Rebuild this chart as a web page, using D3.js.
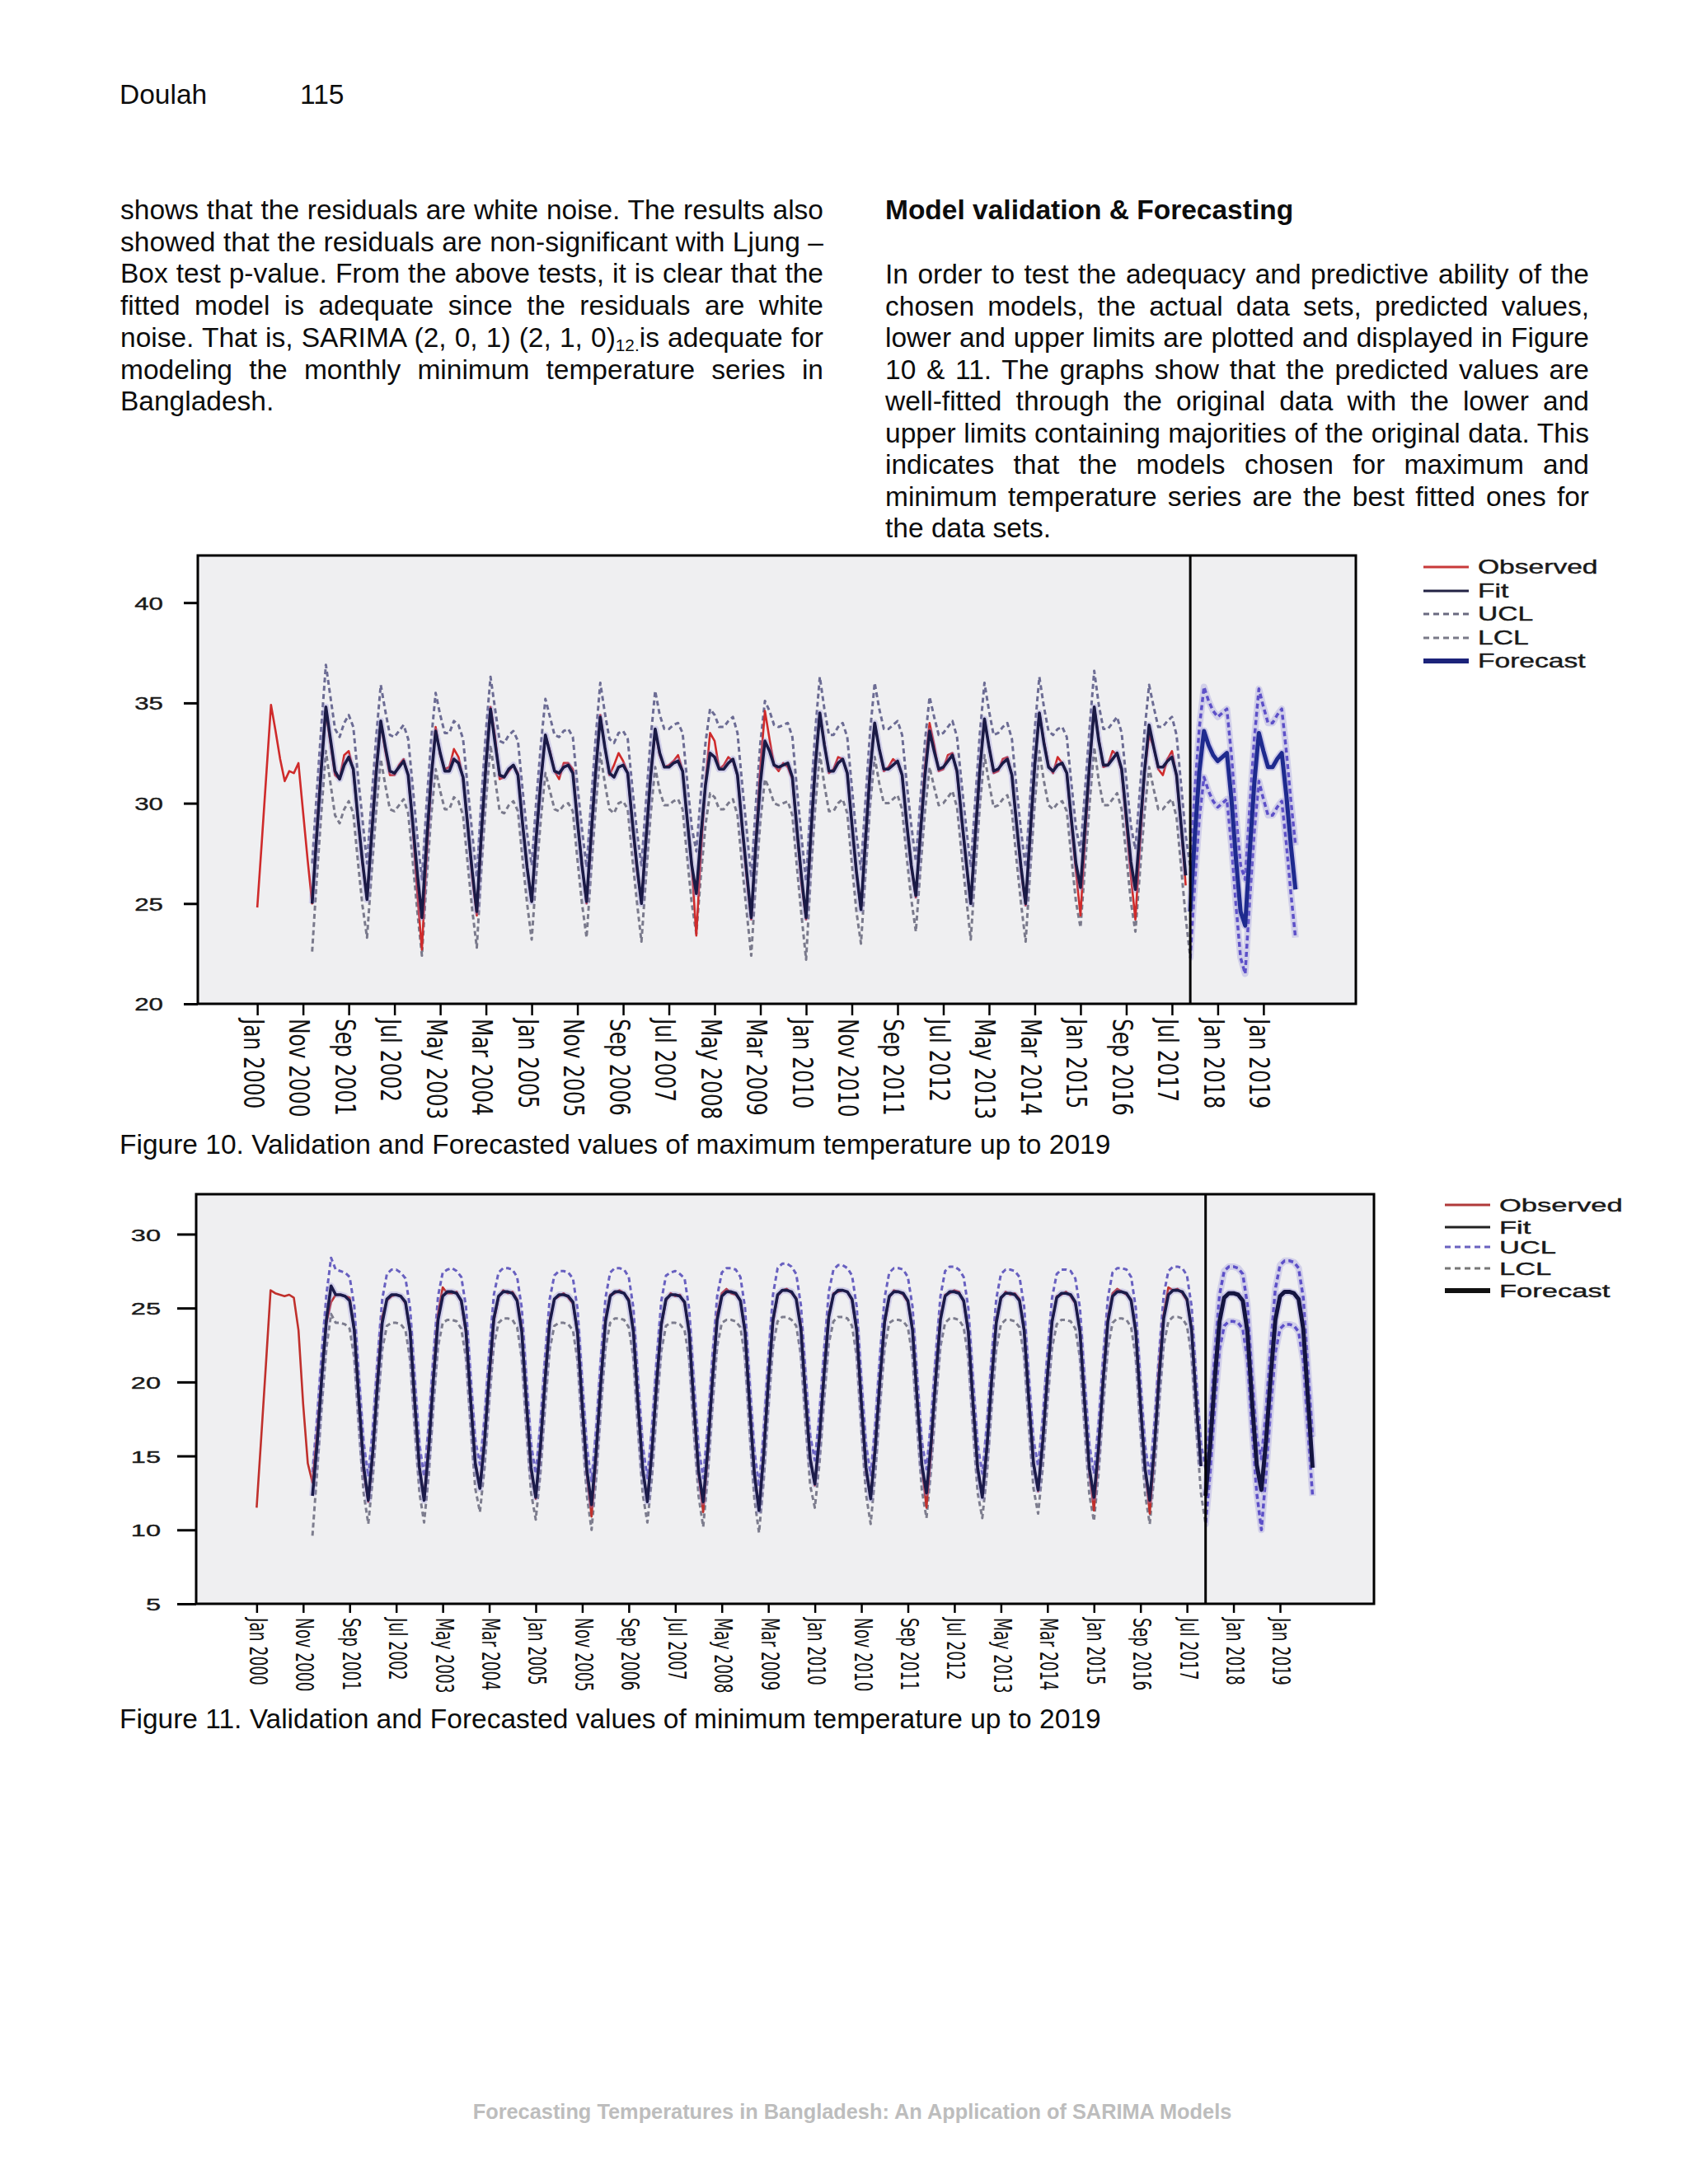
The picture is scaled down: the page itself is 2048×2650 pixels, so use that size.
<!DOCTYPE html>
<html><head><meta charset="utf-8">
<script src="https://cdn.jsdelivr.net/npm/d3@7/dist/d3.min.js"></script>
<style>html,body{margin:0;padding:0;background:#fff;} svg{display:block;}</style>
</head><body>
<svg id="page" width="2048" height="2650"></svg>
<script>
// ================= DATA =================
// x positions are month indices counted from Jan 2000
const tickLabels = ["Jan 2000","Nov 2000","Sep 2001","Jul 2002","May 2003","Mar 2004","Jan 2005","Nov 2005","Sep 2006","Jul 2007","May 2008","Mar 2009","Jan 2010","Nov 2010","Sep 2011","Jul 2012","May 2013","Mar 2014","Jan 2015","Sep 2016","Jul 2017","Jan 2018","Jan 2019"];
const tickMonths = [0,10,20,30,40,50,60,70,80,90,100,110,120,130,140,150,160,170,180,190,200,210,220];
const legendNames = ["Observed","Fit","UCL","LCL","Forecast"];
const fitStart = 12;        // Jan 2001
const forecastStart = 204;  // Jan 2017
const xDomain = [-13, 240.2];

// ---- Figure 10: maximum temperature ----
const maxObserved = [
24.8,28.1,31.5,34.9,33.6,32.2,31.1,31.6,31.5,32.0,29.6,27.2,
25.0,28.6,31.9,34.6,33.0,31.4,31.2,32.4,32.6,31.6,29.2,27.0,
25.2,28.5,31.7,34.0,32.6,31.4,31.4,31.9,32.2,31.4,28.8,25.5,
22.7,27.3,31.0,33.8,32.4,31.7,31.8,32.7,32.3,31.2,29.0,26.3,
24.4,28.4,31.9,34.8,33.3,31.2,31.3,31.6,31.9,31.5,29.0,26.8,
25.1,28.3,31.1,33.4,32.6,31.6,31.2,32.0,32.0,31.7,29.2,26.9,
25.0,28.3,31.6,34.4,32.8,31.4,31.9,32.5,32.1,31.5,29.0,26.7,
25.1,28.2,31.3,33.6,32.4,31.8,31.9,32.1,32.4,31.6,29.2,26.9,
23.4,27.6,31.0,33.5,33.1,31.7,31.9,32.3,32.1,31.4,28.8,26.3,
24.2,28.0,31.8,34.6,33.2,31.9,31.6,32.0,31.8,31.2,28.6,26.0,
24.2,28.2,31.9,34.5,33.0,31.5,31.7,32.3,32.2,31.5,29.0,26.5,
24.7,28.3,31.7,34.0,32.7,31.6,31.8,32.2,32.0,31.4,29.0,26.8,
25.3,28.6,31.8,34.0,32.9,31.6,31.7,32.4,32.5,31.5,29.2,27.0,
25.0,28.5,31.8,34.2,32.8,31.5,31.6,32.2,32.3,31.4,29.0,26.6,
24.9,28.4,31.9,34.5,33.1,31.9,31.5,32.3,32.0,31.5,29.0,26.6,
24.4,28.3,31.9,34.8,33.2,31.8,31.9,32.6,32.4,31.6,29.0,26.4,
24.2,28.0,31.5,33.4,32.8,31.7,31.4,32.2,32.6,31.3,28.8,25.9];
const maxFit = [
25.0,28.4,31.7,34.8,33.2,31.6,31.2,31.9,32.3,31.7,29.3,27.1,
25.2,28.4,31.5,34.1,32.8,31.6,31.5,31.8,32.1,31.4,29.0,26.5,
24.3,28.0,31.2,33.6,32.5,31.6,31.6,32.2,32.0,31.3,28.9,26.6,
24.6,28.5,31.9,34.7,33.0,31.4,31.3,31.7,31.9,31.4,29.0,26.8,
25.1,28.3,31.1,33.4,32.5,31.6,31.5,31.8,31.9,31.5,29.1,26.9,
25.1,28.4,31.6,34.3,32.8,31.5,31.3,31.8,31.9,31.5,29.1,26.9,
25.0,28.2,31.3,33.7,32.5,31.8,31.8,32.0,32.1,31.6,29.2,26.9,
25.5,28.4,30.9,32.5,32.3,31.7,31.7,32.0,32.2,31.4,28.9,26.6,
24.3,27.9,31.0,33.1,32.6,31.9,31.8,31.9,32.0,31.3,28.7,26.3,
24.3,28.3,31.8,34.5,32.9,31.6,31.6,32.0,32.2,31.5,29.0,26.6,
24.7,28.2,31.6,34.0,32.7,31.7,31.7,31.9,32.1,31.4,29.0,26.9,
25.4,28.5,31.4,33.6,32.6,31.7,31.8,32.1,32.4,31.6,29.3,27.1,
25.0,28.4,31.7,34.2,32.8,31.6,31.7,32.0,32.2,31.4,29.0,26.8,
25.0,28.5,31.9,34.5,33.0,31.8,31.6,31.9,32.0,31.5,29.2,27.0,
25.8,28.9,32.0,34.8,33.1,31.9,31.9,32.2,32.5,31.7,29.4,27.1,
25.7,28.7,31.6,33.9,32.8,31.8,31.8,32.1,32.3,31.4,28.9,26.4];
const maxUCL = [
27.0,30.5,33.8,36.9,35.3,33.7,33.3,34.0,34.4,33.8,31.4,29.2,
27.0,30.2,33.3,35.9,34.6,33.4,33.3,33.6,33.9,33.2,30.8,28.3,
26.2,29.9,33.1,35.5,34.4,33.5,33.5,34.1,33.9,33.2,30.8,28.5,
26.3,30.2,33.6,36.3,34.7,33.1,33.0,33.4,33.6,33.1,30.7,28.5,
26.9,30.1,32.9,35.2,34.3,33.4,33.3,33.6,33.7,33.3,30.9,28.7,
26.8,30.1,33.3,36.0,34.5,33.2,33.0,33.5,33.6,33.2,30.8,28.6,
26.9,30.1,33.2,35.6,34.4,33.7,33.7,33.9,34.0,33.5,31.1,28.8,
27.6,30.5,33.0,34.7,34.4,33.8,33.8,34.1,34.3,33.5,31.0,28.7,
26.3,29.9,33.0,35.1,34.6,33.9,33.8,33.9,34.0,33.3,30.7,28.3,
26.1,30.1,33.6,36.3,34.7,33.4,33.4,33.8,34.0,33.3,30.8,28.4,
26.7,30.2,33.6,36.0,34.7,33.7,33.7,33.9,34.1,33.4,31.0,28.9,
27.1,30.2,33.1,35.3,34.3,33.4,33.5,33.8,34.1,33.3,31.0,28.8,
26.8,30.2,33.5,36.0,34.6,33.4,33.5,33.8,34.0,33.2,30.8,28.6,
26.8,30.3,33.7,36.3,34.8,33.6,33.4,33.7,33.8,33.3,31.0,28.8,
27.6,30.7,33.8,36.6,34.9,33.7,33.7,34.0,34.3,33.5,31.2,28.9,
27.7,30.7,33.6,35.9,34.8,33.8,33.8,34.1,34.3,33.4,30.9,28.4,
26.8,30.6,33.8,35.8,35.1,34.6,34.3,34.5,34.7,32.4,29.4,26.9,
26.2,29.8,33.2,35.7,34.8,34.0,34.0,34.4,34.7,32.6,30.1,27.9];
const maxLCL = [
22.6,26.2,29.5,32.6,31.0,29.4,29.0,29.7,30.1,29.5,27.1,24.9,
23.3,26.5,29.6,32.2,30.9,29.7,29.6,29.9,30.2,29.5,27.1,24.6,
22.4,26.1,29.3,31.7,30.6,29.7,29.7,30.3,30.1,29.4,27.0,24.7,
22.8,26.7,30.1,32.9,31.2,29.6,29.5,29.9,30.1,29.6,27.2,25.0,
23.2,26.4,29.2,31.5,30.6,29.7,29.6,29.9,30.0,29.6,27.2,25.0,
23.3,26.6,29.8,32.5,31.0,29.7,29.5,30.0,30.1,29.7,27.3,25.1,
23.1,26.3,29.4,31.8,30.6,29.9,29.9,30.1,30.2,29.7,27.3,25.0,
23.5,26.4,28.9,30.5,30.3,29.7,29.7,30.0,30.2,29.4,26.9,24.6,
22.4,26.0,29.1,31.2,30.7,30.0,29.9,30.0,30.1,29.4,26.8,24.4,
22.2,26.3,29.8,32.5,30.9,29.6,29.6,30.0,30.2,29.5,27.0,24.6,
23.0,26.5,29.9,32.3,31.0,30.0,30.0,30.2,30.4,29.7,27.3,25.2,
23.6,26.7,29.6,31.8,30.8,29.9,30.0,30.3,30.6,29.8,27.5,25.3,
23.2,26.6,29.9,32.4,31.0,29.8,29.9,30.2,30.4,29.6,27.2,25.0,
23.1,26.6,30.0,32.6,31.1,29.9,29.7,30.0,30.1,29.6,27.3,25.1,
23.8,26.9,30.0,32.8,31.1,29.9,29.9,30.2,30.5,29.7,27.4,25.1,
23.6,26.6,29.5,31.8,30.7,29.7,29.7,30.0,30.2,29.3,26.8,24.3,
22.3,26.1,29.3,31.3,30.6,30.1,29.8,30.0,30.2,27.9,24.9,22.3,
21.5,25.2,28.6,31.1,30.2,29.4,29.4,29.8,30.1,28.0,25.5,23.3];
const maxForecast = [
24.6,28.4,31.6,33.6,32.9,32.4,32.1,32.3,32.5,30.2,27.2,24.6,
23.9,27.6,31.0,33.5,32.6,31.8,31.8,32.2,32.5,30.4,27.9,25.7];

// ---- Figure 11: minimum temperature ----
const minObserved = [
11.5,16.3,21.2,26.2,26.0,25.9,25.8,25.9,25.7,23.5,18.5,14.5,
13.2,16.5,20.5,24.0,25.4,25.9,25.9,25.8,25.7,23.4,18.6,14.0,
11.9,15.2,20.3,24.4,25.5,25.8,25.9,25.8,25.3,23.4,18.4,14.2,
12.1,15.8,20.4,24.6,26.4,26.0,26.0,26.1,25.4,23.3,18.9,14.6,
12.9,16.2,20.2,24.1,25.7,26.2,26.0,26.1,25.6,23.6,18.5,14.0,
12.1,15.4,20.3,24.2,25.6,25.8,26.0,25.7,25.3,23.2,18.2,13.8,
10.9,15.0,20.2,24.3,25.9,26.0,26.2,26.0,25.6,23.5,18.6,14.0,
12.0,15.6,19.8,23.8,25.5,26.0,25.8,25.9,25.3,23.4,18.2,13.8,
11.2,15.2,20.4,24.5,26.0,26.3,26.0,25.9,25.5,23.3,18.4,13.9,
11.4,15.3,20.1,24.0,25.8,26.2,26.3,26.0,25.7,23.8,19.1,14.9,
13.0,16.1,20.8,24.5,26.0,26.1,26.2,26.1,25.5,23.4,18.4,14.0,
12.2,15.8,20.0,23.9,25.7,26.2,26.1,25.9,25.4,23.6,18.9,14.3,
11.5,15.4,20.5,24.4,25.9,26.0,26.2,26.1,25.4,23.3,18.5,14.1,
12.3,15.5,20.2,24.2,25.6,26.1,25.9,26.0,25.6,23.4,18.9,14.6,
12.6,16.1,20.3,24.0,25.8,25.9,26.1,25.8,25.3,23.5,18.5,14.0,
11.3,15.2,20.4,24.3,26.0,26.3,26.1,25.9,25.6,23.3,18.4,14.2,
11.1,15.3,21.0,24.6,26.4,26.2,26.3,26.0,25.5,23.6,18.7,14.4];
const minFit = [
12.3,15.8,20.3,24.2,26.5,25.9,25.9,25.8,25.5,23.5,18.7,14.3,
12.0,15.4,20.0,24.0,25.6,25.9,25.9,25.8,25.4,23.4,18.6,14.2,
12.0,15.5,20.2,24.2,25.8,26.1,26.1,26.0,25.5,23.5,18.8,14.5,
12.8,16.0,20.5,24.3,25.8,26.1,26.1,26.0,25.5,23.4,18.6,14.2,
12.2,15.6,20.1,24.0,25.6,25.9,25.9,25.8,25.4,23.3,18.4,14.0,
11.7,15.3,20.0,24.1,25.8,26.1,26.1,26.0,25.5,23.4,18.5,14.1,
11.9,15.4,20.0,23.9,25.6,25.9,25.9,25.8,25.4,23.3,18.4,14.0,
11.9,15.5,20.2,24.2,25.8,26.1,26.1,26.0,25.5,23.4,18.3,13.8,
11.3,15.1,20.0,24.2,25.9,26.2,26.2,26.1,25.6,23.6,19.0,14.8,
13.1,16.3,20.6,24.4,25.9,26.2,26.2,26.1,25.6,23.5,18.6,14.2,
12.1,15.6,20.2,24.1,25.8,26.1,26.1,26.0,25.5,23.5,18.8,14.4,
12.5,15.9,20.3,24.2,25.8,26.1,26.1,26.0,25.5,23.4,18.6,14.2,
12.2,15.6,20.1,24.0,25.7,26.0,26.0,25.9,25.5,23.5,18.8,14.5,
12.7,16.0,20.4,24.1,25.7,26.0,26.0,25.9,25.4,23.4,18.6,14.2,
12.2,15.6,20.2,24.1,25.8,26.1,26.1,26.0,25.5,23.4,18.5,14.1,
12.0,15.6,20.3,24.3,25.9,26.2,26.2,26.1,25.6,23.5,18.6,14.3];
const minUCL = [
13.9,17.6,22.0,25.9,28.4,27.6,27.5,27.4,27.1,25.1,20.3,15.9,
13.6,17.0,21.6,25.6,27.3,27.6,27.6,27.4,27.0,25.0,20.2,15.8,
13.6,17.1,21.8,25.8,27.4,27.6,27.7,27.5,27.1,25.1,20.4,16.1,
14.4,17.6,22.1,25.9,27.4,27.7,27.7,27.6,27.1,25.0,20.2,15.8,
13.8,17.2,21.7,25.6,27.2,27.5,27.5,27.4,27.0,24.9,20.0,15.6,
13.3,16.9,21.6,25.7,27.4,27.7,27.7,27.6,27.1,25.0,20.1,15.7,
13.5,17.0,21.6,25.5,27.2,27.4,27.5,27.3,27.0,24.9,20.0,15.6,
13.5,17.1,21.8,25.8,27.4,27.7,27.7,27.6,27.1,25.0,19.9,15.4,
12.9,16.7,21.7,25.9,27.7,28.0,28.0,27.8,27.3,25.2,20.6,16.4,
14.7,17.9,22.2,26.1,27.6,27.9,27.9,27.7,27.2,25.1,20.2,15.8,
13.7,17.2,21.8,25.7,27.4,27.7,27.7,27.6,27.1,25.1,20.4,16.0,
14.1,17.5,21.9,25.8,27.5,27.8,27.8,27.6,27.1,25.0,20.2,15.8,
13.8,17.2,21.7,25.6,27.3,27.6,27.6,27.5,27.1,25.1,20.4,16.1,
14.3,17.6,22.0,25.7,27.3,27.6,27.6,27.5,27.0,25.0,20.2,15.8,
13.8,17.2,21.8,25.7,27.4,27.7,27.7,27.6,27.1,25.0,20.1,15.7,
13.6,17.2,21.9,25.9,27.5,27.8,27.8,27.7,27.2,25.1,20.2,15.9,
14.1,17.6,22.1,25.9,27.5,27.8,27.8,27.7,27.3,25.2,20.4,16.2,
14.8,18.1,22.5,26.3,27.9,28.2,28.2,28.1,27.7,25.7,21.0,16.3];
const minLCL = [
9.6,13.9,18.4,22.3,24.6,24.0,24.0,23.9,23.6,21.6,16.8,12.5,
10.4,13.6,18.2,22.2,23.8,24.0,24.0,23.9,23.5,21.5,16.8,12.5,
10.5,13.7,18.4,22.4,24.0,24.2,24.2,24.1,23.6,21.6,17.0,12.8,
11.2,14.2,18.7,22.5,24.0,24.3,24.3,24.2,23.7,21.6,16.8,12.5,
10.7,13.8,18.3,22.2,23.8,24.0,24.0,23.9,23.5,21.4,16.6,12.3,
10.0,13.5,18.2,22.3,24.0,24.3,24.3,24.2,23.7,21.6,16.7,12.4,
10.5,13.6,18.2,22.1,23.8,24.0,24.0,23.9,23.5,21.5,16.6,12.3,
10.2,13.7,18.4,22.4,24.0,24.2,24.2,24.1,23.7,21.6,16.5,12.1,
9.8,13.3,18.2,22.4,24.1,24.4,24.4,24.2,23.8,21.8,17.2,13.0,
11.5,14.5,18.8,22.6,24.1,24.4,24.4,24.3,23.8,21.7,16.8,12.4,
10.4,13.8,18.4,22.3,24.0,24.2,24.2,24.1,23.7,21.7,17.0,12.7,
10.8,14.1,18.5,22.4,24.0,24.3,24.3,24.2,23.7,21.6,16.8,12.5,
10.8,13.8,18.3,22.2,23.9,24.2,24.2,24.1,23.7,21.7,17.0,12.8,
11.1,14.2,18.6,22.3,23.9,24.2,24.2,24.1,23.6,21.6,16.8,12.4,
10.6,13.8,18.4,22.3,24.0,24.3,24.3,24.2,23.7,21.6,16.7,12.4,
10.4,13.8,18.5,22.5,24.1,24.4,24.4,24.3,23.8,21.7,16.8,12.5,
10.4,13.9,18.4,22.2,23.8,24.1,24.1,24.0,23.6,21.5,16.7,12.5,
10.0,13.8,18.2,22.0,23.6,23.9,23.9,23.8,23.4,21.4,16.7,12.3];
const minForecast = [
12.3,15.8,20.3,24.1,25.7,26.0,26.0,25.9,25.5,23.4,18.6,14.4,
12.7,16.0,20.4,24.2,25.8,26.1,26.1,26.0,25.6,23.6,18.9,14.2];

// ---- page text ----
const headerAuthor = "Doulah", headerPage = "115";
const leftColumn = [
  [{t:"shows that the residuals are white noise. The results also"}],
  [{t:"showed that the residuals are non-significant with Ljung \u2013"}],
  [{t:"Box test p-value. From the above tests, it is clear that the"}],
  [{t:"fitted model is adequate since the residuals are white"}],
  [{t:"noise. That is, SARIMA (2, 0, 1) (2, 1, 0)"},{t:"12.",sub:true},{t:"is adequate for"}],
  [{t:"modeling the monthly minimum temperature series in"}],
  [{t:"Bangladesh."}]
];
const rightHeading = "Model validation & Forecasting";
const rightColumn = [
  "In order to test the adequacy and predictive ability of the",
  "chosen models, the actual data sets, predicted values,",
  "lower and upper limits are plotted and displayed in Figure",
  "10 & 11. The graphs show that the predicted values are",
  "well-fitted through the original data with the lower and",
  "upper limits containing majorities of the original data. This",
  "indicates that the models chosen for maximum and",
  "minimum temperature series are the best fitted ones for",
  "the data sets."
];
const caption10 = "Figure 10. Validation and Forecasted values of maximum temperature up to 2019";
const caption11 = "Figure 11. Validation and Forecasted values of minimum temperature up to 2019";
const footer = "Forecasting Temperatures in Bangladesh: An Application of SARIMA Models";

// ================= DRAWING =================
const svg = d3.select("#page");
const defs = svg.append("defs");
const FONT = "'Liberation Sans', Arial, Helvetica, sans-serif";

function addText(x, y, parts, o = {}) {
  const size = o.size || 33.5, sx = o.sx || 1;
  const t = svg.append("text")
    .attr("transform", `translate(${x},${y}) scale(${sx},1)`)
    .attr("font-family", FONT).attr("font-size", size)
    .attr("font-weight", o.weight || "normal")
    .attr("fill", o.fill || "#0d0d0d")
    .attr("text-anchor", o.anchor || "start");
  let shifted = 0;
  parts.forEach(p => {
    const ts = t.append("tspan").text(p.t);
    if (p.sub) { ts.attr("font-size", size * 0.62).attr("dy", 5); shifted = 5; }
    else if (shifted) { ts.attr("dy", -shifted); shifted = 0; }
  });
  if (o.justify) {
    const target = o.justify / sx;
    const natural = t.node().getComputedTextLength();
    const full = parts.map(p => p.t).join("");
    const spaces = (full.match(/ /g) || []).length;
    if (spaces > 0) {
      t.style("word-spacing", ((target - natural) / spaces) + "px");
      const after = t.node().getComputedTextLength();
      if (Math.abs(after - target) > 3) {
        t.style("word-spacing", null).attr("textLength", target).attr("lengthAdjust", "spacing");
      }
    }
  }
  if (o.fitWidth) {
    const natural = t.node().getComputedTextLength();
    t.attr("transform", `translate(${x},${y}) scale(${o.fitWidth / natural},1)`);
  }
  return t;
}

// header
addText(145, 126, [{t: headerAuthor}]);
addText(364, 126, [{t: headerPage}]);
// left column
leftColumn.forEach((parts, i) => addText(146, 266 + i * 38.7, parts, {justify: i < leftColumn.length - 1 ? 853 : null}));
// right column
addText(1074, 266, [{t: rightHeading}], {weight: "bold"});
rightColumn.forEach((s, i) => addText(1074, 344 + i * 38.5, [{t: s}], {justify: i < rightColumn.length - 1 ? 854 : null}));
// captions + footer
addText(145, 1400, [{t: caption10}]);
addText(145, 2097, [{t: caption11}]);
addText(1034, 2571, [{t: footer}], {size: 26, weight: "bold", fill: "#bdbdbd", anchor: "middle", fitWidth: 921});

function drawChart(c) {
  const x = d3.scaleLinear().domain(xDomain).range([c.left, c.right]);
  const y = d3.scaleLinear().domain(c.yDomain).range([c.bottom, c.top]);
  const g = svg.append("g");
  const W = c.right - c.left, H = c.bottom - c.top;
  g.append("rect").attr("x", c.left).attr("y", c.top).attr("width", W).attr("height", H).attr("fill", "#efeff1");
  const xd = x(forecastStart);
  defs.append("clipPath").attr("id", c.id + "pre").append("rect").attr("x", c.left).attr("y", c.top).attr("width", xd - c.left).attr("height", H);
  defs.append("clipPath").attr("id", c.id + "post").append("rect").attr("x", xd).attr("y", c.top).attr("width", c.right - xd).attr("height", H);
  defs.append("clipPath").attr("id", c.id + "all").append("rect").attr("x", c.left).attr("y", c.top).attr("width", W).attr("height", H);

  const pts = (arr, start) => arr.map((v, i) => [start + i, v]);
  const line = d3.line().x(d => x(d[0])).y(d => y(d[1]));
  const S = c.style;
  const path = (d, stroke, w, extra = {}) => {
    const p = g.append("path").attr("d", d).attr("fill", "none").attr("stroke", stroke)
      .attr("stroke-width", w).attr("stroke-linejoin", "round").attr("stroke-linecap", "butt");
    Object.entries(extra).forEach(([k, v]) => p.attr(k, v));
    return p;
  };
  const uclD = line(pts(c.ucl, fitStart)), lclD = line(pts(c.lcl, fitStart));
  // confidence limits (fit period)
  path(uclD, S.ucl, 3, {"stroke-dasharray": "6,4", "clip-path": `url(#${c.id}pre)`});
  path(lclD, S.lcl, 3, {"stroke-dasharray": "6,4", "clip-path": `url(#${c.id}pre)`});
  // confidence limits (forecast period)
  [uclD, lclD].forEach(d => {
    path(d, S.halo, 8, {"stroke-opacity": 0.3, "clip-path": `url(#${c.id}post)`});
    path(d, S.post, 3.5, {"stroke-dasharray": "6,4", "clip-path": `url(#${c.id}post)`});
  });
  // observed
  path(line(pts(c.obs, 0)), S.obs, 2.6, {"clip-path": `url(#${c.id}all)`});
  // fit
  const fitD = line(pts(c.fit, fitStart));
  path(fitD, S.halo, 8, {"stroke-opacity": 0.3});
  path(fitD, S.fit, 3.6);
  // forecast
  const fcD = line(pts(c.fc, forecastStart));
  path(fcD, S.halo, 9, {"stroke-opacity": 0.35});
  path(fcD, S.fc, 5);

  // frame + divider
  g.append("rect").attr("x", c.left).attr("y", c.top).attr("width", W).attr("height", H)
    .attr("fill", "none").attr("stroke", "#000").attr("stroke-width", 3);
  g.append("line").attr("x1", xd).attr("x2", xd).attr("y1", c.top).attr("y2", c.bottom)
    .attr("stroke", "#000").attr("stroke-width", 3);

  // y axis
  const ya = g.append("g").attr("transform", `translate(${c.left},0)`)
    .call(d3.axisLeft(y).tickValues(c.yTicks).tickSize(c.yTickLen).tickFormat(d3.format("d")));
  ya.select(".domain").remove();
  ya.selectAll(".tick line").attr("stroke", "#000").attr("stroke-width", 3);
  ya.selectAll(".tick text").attr("x", 0).attr("dy", "0.36em")
    .attr("transform", `translate(${c.yLabelRight - c.left},0) scale(${c.yLabelSx},1)`)
    .attr("font-family", FONT).attr("font-size", c.yLabelSize).attr("fill", "#1a1a1a")
    .attr("stroke", "#1a1a1a").attr("stroke-width", 0.4).attr("text-anchor", "end");

  // x axis
  const xa = g.append("g").attr("transform", `translate(0,${c.bottom})`)
    .call(d3.axisBottom(x).tickValues(tickMonths).tickSize(c.xTickLen).tickFormat((d, i) => tickLabels[i]));
  xa.select(".domain").remove();
  xa.selectAll(".tick line").attr("stroke", "#000").attr("stroke-width", 2.5);
  xa.selectAll(".tick text").attr("x", 0).attr("y", 0).attr("dy", c.xLabelDy)
    .attr("transform", `translate(0,${c.xLabelY - c.bottom}) rotate(90) scale(${c.xLabelSx},1)`)
    .attr("font-family", "'DejaVu Sans', Verdana, sans-serif").attr("font-size", c.xLabelSize)
    .attr("fill", "#111").attr("text-anchor", "start");

  // legend
  const L = c.legend;
  legendNames.forEach((name, i) => {
    const st = L.styles[i];
    const ly = L.ys[i];
    const ln = svg.append("line").attr("x1", L.x1).attr("x2", L.x2).attr("y1", ly).attr("y2", ly)
      .attr("stroke", st.color).attr("stroke-width", st.w);
    if (st.dash) ln.attr("stroke-dasharray", st.dash);
    svg.append("text").attr("transform", `translate(${L.tx},${ly}) scale(${L.sx},1)`)
      .attr("dy", "0.36em").attr("font-family", FONT).attr("font-size", L.size)
      .attr("fill", "#1a1a1a").attr("stroke", "#1a1a1a").attr("stroke-width", 0.4).text(name);
  });
}

drawChart({
  id: "c1", left: 240, right: 1645, top: 674, bottom: 1218,
  yDomain: [20, 42.35], yTicks: [20, 25, 30, 35, 40],
  yTickLen: 17, yLabelRight: 198, yLabelSize: 22, yLabelSx: 1.42,
  xTickLen: 14, xLabelY: 1236, xLabelSize: 34, xLabelSx: 0.73, xLabelDy: "0.5em",
  obs: maxObserved, fit: maxFit, ucl: maxUCL, lcl: maxLCL, fc: maxForecast,
  style: {obs: "#cf2b2b", fit: "#1a1a46", ucl: "#6c6c94", lcl: "#7a7a8c", post: "#5d50c8", halo: "#8c84d8", fc: "#1e2a8e"},
  legend: {x1: 1727, x2: 1782, tx: 1793, ys: [688, 717, 745, 774, 802], size: 23, sx: 1.46,
    styles: [{color: "#c83a3a", w: 3}, {color: "#222244", w: 3}, {color: "#6a6a80", w: 3, dash: "7,5"}, {color: "#7a7a88", w: 3, dash: "7,5"}, {color: "#1c237a", w: 6}]}
});

drawChart({
  id: "c2", left: 238, right: 1667, top: 1449, bottom: 1946,
  yDomain: [5, 32.7], yTicks: [5, 10, 15, 20, 25, 30],
  yTickLen: 23, yLabelRight: 195, yLabelSize: 21, yLabelSx: 1.55,
  xTickLen: 11, xLabelY: 1963, xLabelSize: 30, xLabelSx: 0.62, xLabelDy: "0.3em",
  obs: minObserved, fit: minFit, ucl: minUCL, lcl: minLCL, fc: minForecast,
  style: {obs: "#c0302c", fit: "#1b1b4a", ucl: "#6860c0", lcl: "#7d7d8e", post: "#5d50c8", halo: "#8c84d8", fc: "#141440"},
  legend: {x1: 1753, x2: 1808, tx: 1819, ys: [1462, 1489, 1513, 1539, 1566], size: 22, sx: 1.57,
    styles: [{color: "#b03a3a", w: 3}, {color: "#222", w: 3}, {color: "#6a62c0", w: 3, dash: "7,5"}, {color: "#777", w: 3, dash: "7,5"}, {color: "#111", w: 6}]}
});
</script>
</body></html>
